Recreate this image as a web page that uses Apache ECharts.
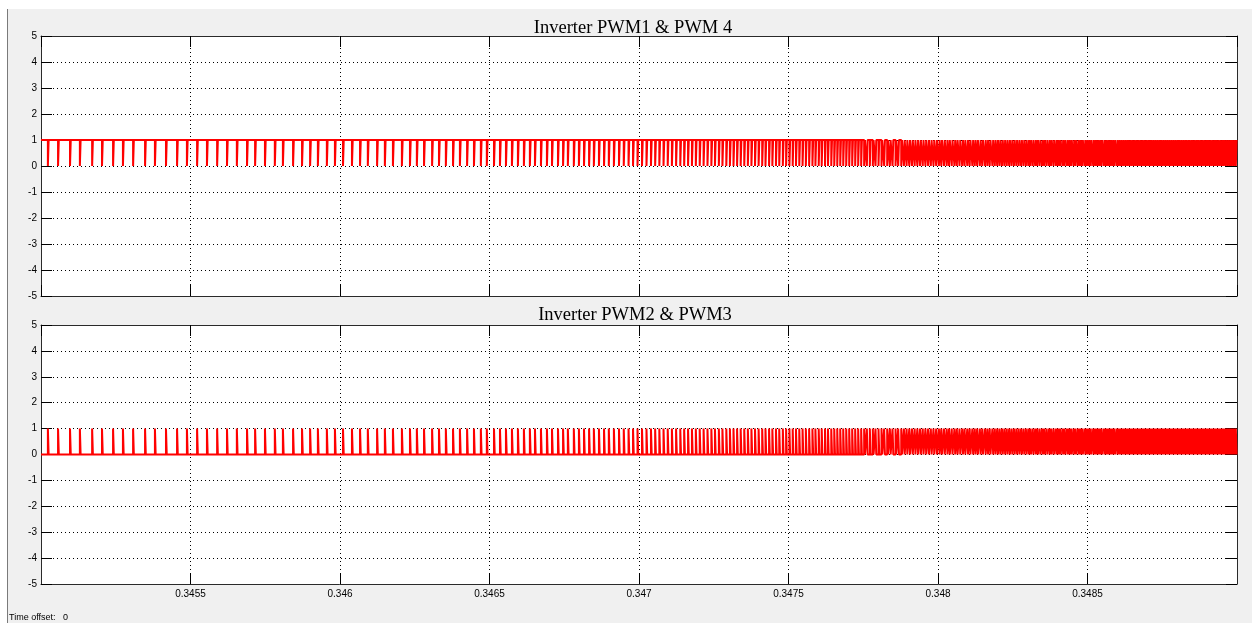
<!DOCTYPE html>
<html>
<head>
<meta charset="utf-8">
<script src="https://cdn.jsdelivr.net/npm/echarts@6/dist/echarts.min.js"></script>
<style>
  html, body { margin: 0; padding: 0; background: #fff; }
  #chart { width: 1252px; height: 623px; }
</style>
</head>
<body>
<div id="chart"></div>
<script>
// time window of the scope (s)
const tStart = 0.345;
const tEnd = 0.349;
const tickStep = 0.0005;

// switching instants, in microseconds after tStart
const pulseOffsetsUs = [
  23, 57, 97, 130, 171, 204, 241, 274, 308, 348, 381, 418, 455, 488, 522, 555, 589, 622,
  655, 689, 716, 749, 782, 809, 843, 873, 900, 926, 956, 983, 1010, 1040, 1067, 1093,
  1124, 1150, 1177, 1207, 1234, 1257, 1281, 1308, 1331, 1354, 1378, 1401, 1425, 1448,
  1471, 1491, 1515, 1535, 1555, 1575, 1595, 1615, 1635, 1652, 1672, 1692, 1709, 1729,
  1746, 1762, 1782, 1799, 1816, 1833, 1849, 1866, 1883, 1899, 1916, 1933,
  1949, 1965, 1980, 1995, 2010, 2025, 2040, 2054, 2068, 2082, 2096, 2110, 2124, 2138,
  2151, 2164, 2177, 2190, 2203, 2216, 2229, 2242, 2254, 2267, 2279, 2292, 2304, 2316,
  2328, 2340, 2352, 2364, 2376, 2388, 2400, 2412, 2423, 2435, 2446, 2458, 2469, 2481,
  2492, 2503, 2514, 2525, 2536, 2547, 2558, 2569, 2580, 2590, 2601, 2611, 2622, 2632,
  2643, 2653, 2663, 2673, 2683, 2693, 2703, 2713, 2723, 2733, 2743, 2753, 2762, 2772,
  2782, 2791, 2801, 2811, 2820, 2830, 2839, 2848, 2858, 2867, 2877, 2886, 2895, 2904,
  2913, 2922, 2931, 2940, 2949, 2958, 2967, 2976, 2985, 2994, 3003, 3011, 3020, 3029,
  3037, 3046, 3055, 3063, 3072, 3081, 3089, 3098, 3106, 3115, 3123, 3131, 3140, 3148,
  3157, 3165, 3173, 3182, 3190, 3198, 3206, 3214, 3222, 3230, 3238, 3246, 3254, 3262,
  3270, 3278, 3286, 3294, 3302, 3309, 3317, 3325, 3332, 3340, 3348, 3355, 3363, 3371,
  3378, 3386, 3394, 3401, 3408, 3416, 3423, 3431, 3438, 3445, 3453, 3460, 3468, 3475,
  3482, 3490, 3497, 3504, 3511, 3519, 3526, 3533, 3540, 3547, 3555, 3562, 3569, 3576,
  3583, 3590, 3598, 3605, 3612, 3619, 3626, 3633, 3640, 3647, 3654, 3661, 3668, 3675,
  3682, 3689, 3696, 3703, 3710, 3717, 3724, 3731, 3738, 3744, 3751, 3758, 3765, 3772,
  3779, 3786, 3793, 3800, 3806, 3813, 3820, 3827, 3834, 3840, 3847, 3854, 3861, 3867,
  3874, 3881, 3888, 3895, 3901, 3908, 3915, 3922, 3928, 3935, 3942, 3949, 3955, 3962,
  3969, 3976, 3982, 3989, 3996
];
const pulseWidthUs = 2.5;

// logic levels: PWM1/4 idles high, PWM2/3 is its complement
const pwm14Levels = [1, 0];
const pwm23Levels = [0, 1];

const titles = ['Inverter PWM1 & PWM 4', 'Inverter PWM2 & PWM3'];
const yMin = -5, yMax = 5;

function buildTrace(levels) {
  const [idle, active] = levels;
  const pts = [[tStart, idle]];
  for (const us of pulseOffsetsUs) {
    const a = tStart + us * 1e-6;
    const b = tStart + (us + pulseWidthUs) * 1e-6;
    pts.push([a, idle], [a, active], [b, active], [b, idle]);
  }
  pts.push([tEnd, idle]);
  return pts;
}

const chart = echarts.init(document.getElementById('chart'));

const grids = [
  { left: 41, top: 36, width: 1196, height: 260 },
  { left: 41, top: 325, width: 1196, height: 259 }
];

const tickStyle = { show: true, inside: true, length: 11, lineStyle: { color: '#000', width: 1 } };
const boxLine = { show: true, onZero: false, lineStyle: { color: '#2a2a2a', width: 1 } };
const dotted = { show: true, lineStyle: { color: '#000', width: 1, type: [1, 3] } };
const lblFont = { fontFamily: 'Liberation Sans', fontSize: 10, color: '#000' };
const titleFont = { fontFamily: 'Liberation Serif', fontSize: 18.5, fontWeight: 'normal', color: '#000' };

const xAxes = [];
const yAxes = [];
grids.forEach((g, i) => {
  xAxes.push({
    type: 'value', gridIndex: i, position: 'bottom',
    min: tStart, max: tEnd, interval: tickStep,
    axisLine: boxLine, axisTick: tickStyle, splitLine: dotted,
    axisLabel: {
      show: i === 1, margin: 5, showMinLabel: false, showMaxLabel: false,
      formatter: v => String(parseFloat(v.toFixed(4))), ...lblFont
    }
  });
  xAxes.push({
    type: 'value', gridIndex: i, position: 'top',
    min: tStart, max: tEnd, interval: tickStep,
    axisLine: boxLine, axisTick: tickStyle, splitLine: { show: false },
    axisLabel: { show: false }
  });
  yAxes.push({
    type: 'value', gridIndex: i, position: 'left',
    min: yMin, max: yMax, interval: 1,
    axisLine: boxLine, axisTick: tickStyle, splitLine: dotted,
    axisLabel: { margin: 4, ...lblFont }
  });
  yAxes.push({
    type: 'value', gridIndex: i, position: 'right',
    min: yMin, max: yMax, interval: 1,
    axisLine: boxLine, axisTick: tickStyle, splitLine: { show: false },
    axisLabel: { show: false }
  });
});

const option = {
  backgroundColor: '#f0f0f0',
  animation: false,
  title: [
    { text: titles[0], left: 628, top: 14, textAlign: 'center', textStyle: titleFont },
    { text: titles[1], left: 630, top: 301, textAlign: 'center', textStyle: titleFont }
  ],
  grid: grids.map(g => ({ ...g, show: true, backgroundColor: '#fff', borderWidth: 0 })),
  xAxis: xAxes,
  yAxis: yAxes,
  graphic: [
    { type: 'rect', left: 0, top: 0, shape: { width: 1252, height: 9 }, style: { fill: '#fff' }, silent: true },
    { type: 'rect', left: 0, top: 0, shape: { width: 7, height: 623 }, style: { fill: '#fff' }, silent: true },
    { type: 'line', shape: { x1: 7.5, y1: 9, x2: 7.5, y2: 623 }, style: { stroke: '#7a7a7a', lineWidth: 1 }, silent: true },
    { type: 'text', left: 9, top: 613, style: { text: 'Time offset:   0', fontFamily: 'Liberation Sans', fontSize: 9, fill: '#000' } }
  ],
  series: [
    { type: 'line', xAxisIndex: 0, yAxisIndex: 0, data: buildTrace(pwm14Levels),
      showSymbol: false, sampling: null, lineStyle: { color: '#ff0000', width: 2 } },
    { type: 'line', xAxisIndex: 2, yAxisIndex: 2, data: buildTrace(pwm23Levels),
      showSymbol: false, sampling: null, lineStyle: { color: '#ff0000', width: 2 } }
  ]
};

chart.setOption(option);
</script>
</body>
</html>
